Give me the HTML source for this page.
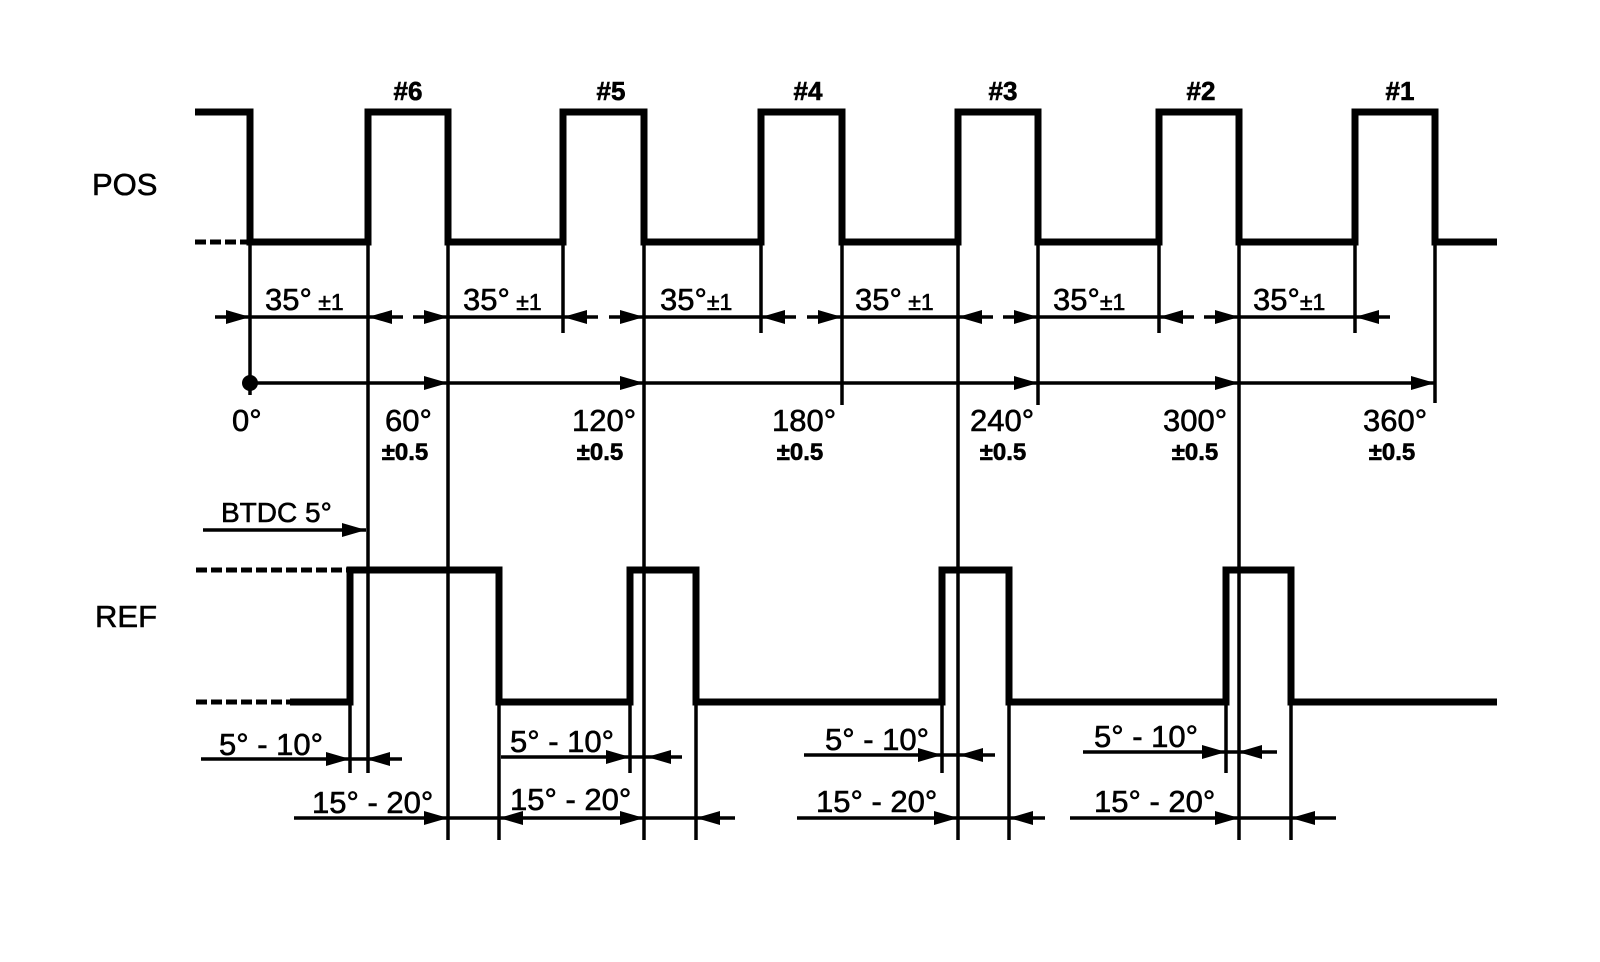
<!DOCTYPE html>
<html><head><meta charset="utf-8"><style>
html,body{margin:0;padding:0;background:#fff;}
svg{display:block;}
text{font-family:"Liberation Sans",Arial,sans-serif;fill:#000;stroke:#000;stroke-width:0.6;}
</style></head><body>
<svg width="1600" height="962" viewBox="0 0 1600 962" xmlns="http://www.w3.org/2000/svg">
<defs>
<marker id="a" markerUnits="userSpaceOnUse" markerWidth="26" markerHeight="16" refX="24" refY="8" orient="auto">
<path d="M0,1 L24,8 L0,15 Z" fill="#000"/>
</marker>
</defs>
<g fill="none" stroke="#000" stroke-linejoin="miter" stroke-linecap="butt">
<path stroke-width="7" d="M195 112 L250 112 L250 242 L368 242 L368 112 L448 112 L448 242 L563 242 L563 112 L644 112 L644 242 L761 242 L761 112 L842 112 L842 242 L958 242 L958 112 L1038 112 L1038 242 L1159 242 L1159 112 L1239 112 L1239 242 L1355 242 L1355 112 L1435 112 L1435 242 L1497 242"/>
<path stroke-width="5" stroke-dasharray="11,4" d="M195 242 L248 242"/>
<path stroke-width="7" d="M290 702 L350 702 L350 570 L499 570 L499 702 L630 702 L630 570 L696 570 L696 702 L942 702 L942 570 L1009 570 L1009 702 L1226 702 L1226 570 L1291 570 L1291 702 L1497 702"/>
<path stroke-width="5" stroke-dasharray="11,4" d="M196 702 L290 702"/>
<path stroke-width="5" stroke-dasharray="11,4" d="M196 570 L348 570"/>
<g stroke-width="3.5">
<path d="M250 242 V395"/>
<path d="M368 242 V773"/>
<path d="M448 242 V840"/>
<path d="M563 242 V333"/>
<path d="M644 242 V840"/>
<path d="M761 242 V333"/>
<path d="M842 242 V405"/>
<path d="M958 242 V840"/>
<path d="M1038 242 V405"/>
<path d="M1159 242 V333"/>
<path d="M1239 242 V840"/>
<path d="M1355 242 V333"/>
<path d="M1435 242 V403"/>
<path d="M350 702 V773"/>
<path d="M499 702 V840"/>
<path d="M630 702 V773"/>
<path d="M696 702 V840"/>
<path d="M942 702 V773"/>
<path d="M1009 702 V840"/>
<path d="M1226 702 V773"/>
<path d="M1291 702 V840"/>
</g>
<g stroke-width="3.5">
<path d="M215 317 L250 317" marker-end="url(#a)"/><path d="M250 317 L368 317"/><path d="M403 317 L368 317" marker-end="url(#a)"/>
<path d="M413 317 L448 317" marker-end="url(#a)"/><path d="M448 317 L563 317"/><path d="M598 317 L563 317" marker-end="url(#a)"/>
<path d="M609 317 L644 317" marker-end="url(#a)"/><path d="M644 317 L761 317"/><path d="M796 317 L761 317" marker-end="url(#a)"/>
<path d="M807 317 L842 317" marker-end="url(#a)"/><path d="M842 317 L958 317"/><path d="M993 317 L958 317" marker-end="url(#a)"/>
<path d="M1003 317 L1038 317" marker-end="url(#a)"/><path d="M1038 317 L1159 317"/><path d="M1194 317 L1159 317" marker-end="url(#a)"/>
<path d="M1204 317 L1239 317" marker-end="url(#a)"/><path d="M1239 317 L1355 317"/><path d="M1390 317 L1355 317" marker-end="url(#a)"/>
</g>
<g stroke-width="3.5">
<path d="M250 383 L448 383" marker-end="url(#a)"/>
<path d="M448 383 L644 383" marker-end="url(#a)"/>
<path d="M644 383 L1038 383" marker-end="url(#a)"/>
<path d="M1038 383 L1239 383" marker-end="url(#a)"/>
<path d="M1239 383 L1435 383" marker-end="url(#a)"/>
</g>
<path stroke-width="3.5" d="M203 530 L366 530" marker-end="url(#a)"/>
<g stroke-width="3.5">
<path d="M201 759 L350 759" marker-end="url(#a)"/><path d="M350 759 L366 759"/><path d="M402 759 L366 759" marker-end="url(#a)"/>
<path d="M501 757 L630 757" marker-end="url(#a)"/><path d="M630 757 L647 757"/><path d="M682 757 L647 757" marker-end="url(#a)"/>
<path d="M804 755 L942 755" marker-end="url(#a)"/><path d="M942 755 L959 755"/><path d="M995 755 L959 755" marker-end="url(#a)"/>
<path d="M1083 752 L1226 752" marker-end="url(#a)"/><path d="M1226 752 L1238 752"/><path d="M1277 752 L1238 752" marker-end="url(#a)"/>
</g>
<g stroke-width="3.5">
<path d="M294 818 L448 818" marker-end="url(#a)"/><path d="M448 818 L499 818"/>
<path d="M573 818 L499 818" marker-end="url(#a)"/><path d="M573 818 L644 818" marker-end="url(#a)"/>
<path d="M644 818 L696 818"/><path d="M735 818 L696 818" marker-end="url(#a)"/>
<path d="M797 818 L958 818" marker-end="url(#a)"/><path d="M958 818 L1009 818"/><path d="M1045 818 L1009 818" marker-end="url(#a)"/>
<path d="M1070 818 L1239 818" marker-end="url(#a)"/><path d="M1239 818 L1291 818"/><path d="M1336 818 L1291 818" marker-end="url(#a)"/>
</g>
</g>
<circle cx="250" cy="383" r="8" fill="#000"/>

<text x="92" y="195" font-size="31">POS</text>
<text x="95" y="627" font-size="31">REF</text>
<g font-size="26" font-weight="bold" text-anchor="middle">
<text x="408" y="100">#6</text><text x="611" y="100">#5</text><text x="808" y="100">#4</text>
<text x="1003" y="100">#3</text><text x="1201" y="100">#2</text><text x="1400" y="100">#1</text>
</g>
<g font-size="31">
<text x="265" y="310">35°<tspan font-size="23"> ±1</tspan></text>
<text x="463" y="310">35°<tspan font-size="23"> ±1</tspan></text>
<text x="660" y="310">35°<tspan font-size="23">±1</tspan></text>
<text x="855" y="310">35°<tspan font-size="23"> ±1</tspan></text>
<text x="1053" y="310">35°<tspan font-size="23">±1</tspan></text>
<text x="1253" y="310">35°<tspan font-size="23">±1</tspan></text>
</g>
<g font-size="31">
<text x="232" y="431">0°</text><text x="385" y="431">60°</text><text x="572" y="431">120°</text>
<text x="772" y="431">180°</text><text x="970" y="431">240°</text><text x="1163" y="431">300°</text>
<text x="1363" y="431">360°</text>
</g>
<g font-size="24" font-weight="bold" text-anchor="middle">
<text x="405" y="460">±0.5</text><text x="600" y="460">±0.5</text><text x="800" y="460">±0.5</text>
<text x="1003" y="460">±0.5</text><text x="1195" y="460">±0.5</text><text x="1392" y="460">±0.5</text>
</g>
<text x="221" y="522" font-size="28">BTDC 5°</text>
<g font-size="31">
<text x="219" y="755">5° - 10°</text>
<text x="510" y="752">5° - 10°</text>
<text x="825" y="750">5° - 10°</text>
<text x="1094" y="747">5° - 10°</text>
<text x="312" y="813">15° - 20°</text>
<text x="510" y="810">15° - 20°</text>
<text x="816" y="812">15° - 20°</text>
<text x="1094" y="812">15° - 20°</text>
</g>
</svg>
</body></html>
